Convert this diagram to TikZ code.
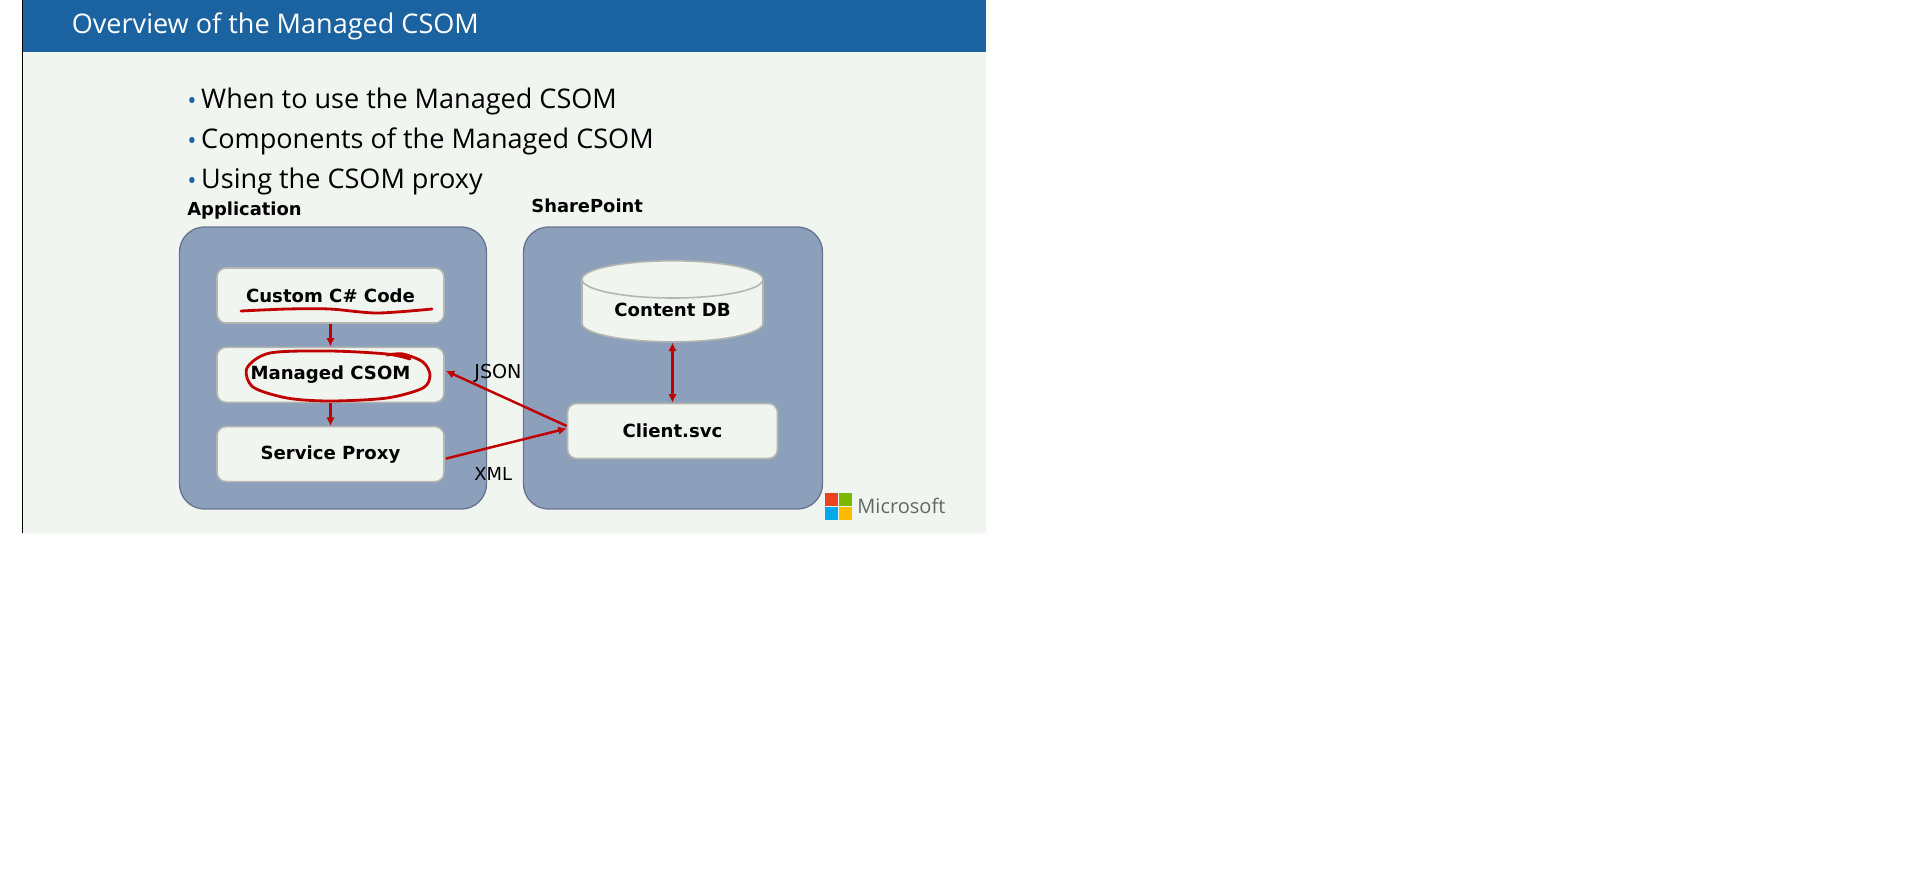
\documentclass[tikz,border=0pt]{standalone}
\usepackage{fontspec}
\setmainfont{Open Sans}
\newfontfamily\labelfont{DejaVu Sans}
\usetikzlibrary{shapes.geometric, arrows.meta, positioning}
\definecolor{headblue}{HTML}{1B62A0}
\definecolor{slidebg}{HTML}{F0F5F0}
\definecolor{panelfill}{HTML}{8DA0BB}
\definecolor{paneldraw}{HTML}{6B7690}
\definecolor{boxdraw}{HTML}{B4B6B0}
\definecolor{inkred}{HTML}{C00000}
\newcommand{\slidedot}{\makebox[7.9pt][l]{\textcolor{headblue}{\fontsize{14}{14}\selectfont\raisebox{-0.6pt}{\textbullet}}}}
\tikzset{
    panel/.style={rectangle, rounded corners=0.5cm, minimum width=6.14cm, minimum height=5.64cm, draw=paneldraw, fill=panelfill, line width=0.8pt},
    compbox/.style={rectangle, rounded corners=0.18cm, minimum width=4.54cm, minimum height=1.1cm, align=center, draw=boxdraw, fill=slidebg, line width=0.9pt, font=\labelfont\bfseries\fontsize{10.3}{12}\selectfont},
    bullettext/.style={anchor=base west, inner sep=0pt, font=\fontsize{15.4}{18}\selectfont},
    grouplabel/.style={anchor=base west, inner sep=0pt, font=\labelfont\bfseries\fontsize{10.2}{12}\selectfont},
    wirelabel/.style={anchor=base west, inner sep=0pt, font=\labelfont\fontsize{10.2}{12}\selectfont},
    arrowline/.style={-{Latex[length=1.7mm, width=1.7mm]}, inkred, line width=1.4pt},
    inkline/.style={inkred, line width=1.6pt, line cap=round, line join=round},
    logosq/.style={rectangle, minimum size=0.245cm, inner sep=0pt}
}
\begin{document}
\begin{tikzpicture}[x=0.02cm, y=-0.02cm]
  \useasboundingbox (0,0) rectangle (1914,877);
  \fill[slidebg] (22,0) rectangle (986,533);
  \fill[headblue] (22,0) rectangle (986,52);
  \draw[black, line width=0.4pt] (22,0) -- (22,533);
  \node[anchor=base west, inner sep=0pt, text=white, font=\fontsize{15.4}{19}\selectfont] (title) at (71.5,33) {Overview of the Managed CSOM};
  % bullet lines
  \node[bullettext] (when) at (187,108) {\slidedot When to use the Managed CSOM};
  \node[bullettext] (comps) at (187,148) {\slidedot Components of the Managed CSOM};
  \node[bullettext] (using) at (187,188) {\slidedot Using the CSOM proxy};
  % panels
  \node[panel] (app) at (333,368) {};
  \node[panel, minimum width=5.98cm] (sp) at (673,368) {};
  \node[grouplabel] (applabel) at (187,215) {Application};
  \node[grouplabel] (splabel) at (531,212) {SharePoint};
  % left stack
  \node[compbox] (custom) at (330.5,295.5) {Custom C\# Code};
  \node[compbox, below=0.455cm of custom] (managed) {Managed CSOM};
  \node[compbox, below=0.455cm of managed] (proxy) {Service Proxy};
  % right stack
  \node[cylinder, shape border rotate=90, aspect=0.32, minimum width=3.62cm, minimum height=1.62cm, draw=boxdraw, fill=slidebg, line width=0.9pt, inner sep=0pt, font=\labelfont\bfseries\fontsize{10.3}{12}\selectfont] (db) at (672.5,311) {\raisebox{1.4pt}{Content DB}};
  \node[compbox, minimum width=4.2cm] (client) at (672.5,431) {Client.svc};
  \node[wirelabel, font=\labelfont\fontsize{10.9}{12}\selectfont] (json) at (474,378) {JSON};
  \node[wirelabel] (xml) at (474,480) {XML};
  \draw[arrowline] (custom) -- (managed);
  \draw[arrowline] (managed) -- (proxy);
  \draw[arrowline, {Latex[length=1.7mm, width=1.7mm]}-{Latex[length=1.7mm, width=1.7mm]}] (db.south) -- (client.north);
  \draw[arrowline] ([yshift=0.1cm]client.west) -- ([xshift=0.02cm, yshift=0.08cm]managed.east);
  \draw[arrowline] ([xshift=0.02cm, yshift=-0.09cm]proxy.east) -- ([yshift=0.05cm]client.west);
  % pen marks
  \draw[inkline] plot[smooth] coordinates {(241,311) (287,309) (330,309) (377,313) (432,309)};
  \draw[inkline] plot[smooth] coordinates {(410,359) (387,354) (330,351) (270,353) (247,368) (253,387) (287,398) (330,401) (387,398) (423,388) (430,375) (423,362) (403,354) (387,355)};
  % logo
  \node[logosq, fill={rgb,255:red,234;green,67;blue,35}] (msred) at (831.5,499.5) {};
  \node[logosq, fill={rgb,255:red,125;green,184;blue,0}, right=0.02cm of msred] (msgreen) {};
  \node[logosq, fill={rgb,255:red,0;green,170;blue,236}, below=0.02cm of msred] (msblue) {};
  \node[logosq, fill={rgb,255:red,255;green,186;blue,0}, right=0.02cm of msblue] (msyellow) {};
  \node[anchor=base west, inner sep=0pt, text=black!60, font=\fontsize{11.4}{14}\selectfont] (mslabel) at (857,513) {Microsoft};
\end{tikzpicture}
\end{document}
